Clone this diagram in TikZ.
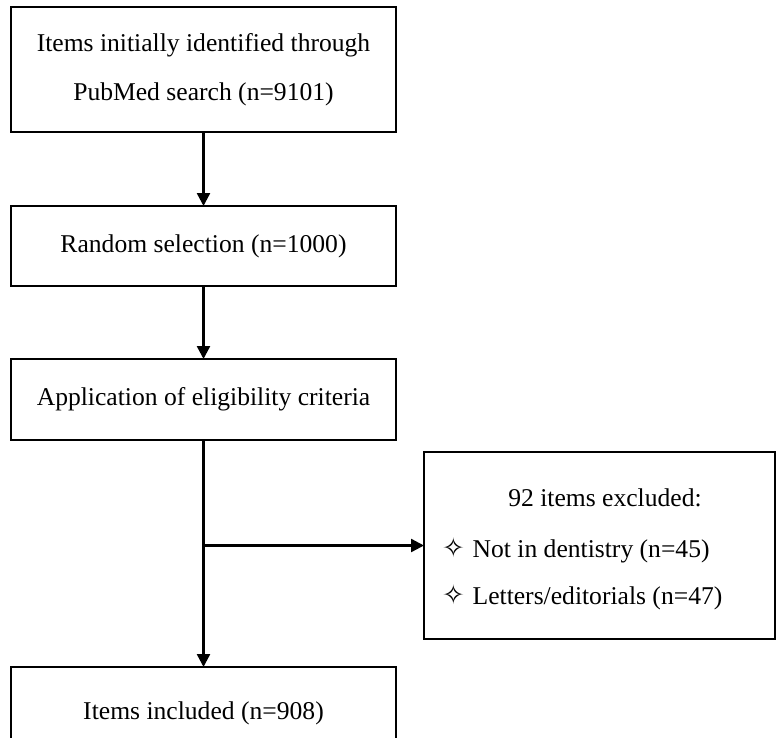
\documentclass[tikz,border=0pt]{standalone}
\usepackage{fontspec}
\setmainfont{Liberation Serif}
\newfontfamily\symfont{DejaVu Sans}
\usetikzlibrary{arrows.meta}
\tikzset{
  flowbox/.style={draw, line width=2.4pt, rectangle, inner sep=0pt, outer sep=0pt, align=center,
    font=\fontsize{25.6}{49.5}\selectfont},
  txt/.style={inner sep=0pt, outer sep=0pt, font=\fontsize{25.6}{30}\selectfont},
  arr/.style={line width=2.4pt, -{Triangle[length=13pt,width=13pt]}}
}
\begin{document}
\begin{tikzpicture}[x=1pt,y=-1pt]
\useasboundingbox (0,0) rectangle (776,737);
\clip (0,0) rectangle (776,737);
\node[flowbox, minimum width=385pt, minimum height=125pt] (b1) at (203.5,69.5)
  {Items initially identified through\\PubMed search (n=9101)};
\node[flowbox, minimum width=385pt, minimum height=80pt] (b2) at (203.5,246)
  {Random selection (n=1000)};
\node[flowbox, minimum width=385pt, minimum height=81pt] (b3) at (203.5,399.5)
  {Application of eligibility criteria};
\node[flowbox, minimum width=385pt, minimum height=92pt] (b4) at (203.5,713)
  {Items included (n=908)};
\node[flowbox, minimum width=351pt, minimum height=187pt] (ex) at (599.5,545.5) {};
\node[txt] (ex0) at (605,498) {92 items excluded:};
\node[txt, anchor=west] (ex1) at (442,550) {{\symfont\fontsize{27}{30}\selectfont ✧}\hspace{8pt}Not in dentistry (n=45)};
\node[txt, anchor=west] (ex2) at (442,597) {{\symfont\fontsize{27}{30}\selectfont ✧}\hspace{8pt}Letters/editorials (n=47)};
\draw[arr] (b1) -- (b2);
\draw[arr] (b2) -- (b3);
\draw[arr] (b3) -- (b4);
\draw[arr] (b3.south |- ex.west) -- (ex.west);
\end{tikzpicture}
\end{document}
